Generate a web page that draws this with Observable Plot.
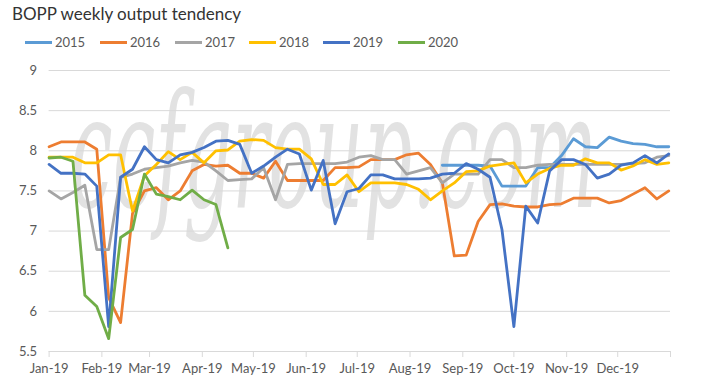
<!DOCTYPE html>
<html>
<head>
<meta charset="utf-8">
<script src="https://cdn.jsdelivr.net/npm/d3@7"></script>
<script src="https://cdn.jsdelivr.net/npm/@observablehq/plot@0.6"></script>
<style>
  html, body { margin: 0; padding: 0; background: #fff; }
  #wrap { position: relative; width: 713px; height: 385px; overflow: hidden; font-family: Lato, "Open Sans", sans-serif; }
  #title { position: absolute; left: 12px; top: 3px; font-size: 17px; color: #333; white-space: nowrap; }
  #legend { position: absolute; left: 0; top: 33px; height: 20px; width: 713px; }
  .item { position: absolute; top: 0; display: flex; align-items: center; height: 18px; font-size: 13px; color: #595959; }
  .sw { width: 27px; height: 3px; margin-right: 3px; }
  #chart { position: absolute; left: 0; top: 55px; }
</style>
</head>
<body>
<div id="wrap">
  <div id="title">BOPP weekly output tendency</div>
  <div id="legend"></div>
  <div id="chart"></div>
</div>
<script>
const weeks = ["2019-01-01","2019-01-08","2019-01-15","2019-01-22","2019-01-29",
  "2019-02-05","2019-02-12","2019-02-19","2019-02-26",
  "2019-03-05","2019-03-12","2019-03-19","2019-03-26",
  "2019-04-02","2019-04-09","2019-04-16","2019-04-23","2019-04-30",
  "2019-05-07","2019-05-14","2019-05-21","2019-05-28",
  "2019-06-04","2019-06-11","2019-06-18","2019-06-25",
  "2019-07-02","2019-07-09","2019-07-16","2019-07-23","2019-07-30",
  "2019-08-06","2019-08-13","2019-08-20","2019-08-27",
  "2019-09-03","2019-09-10","2019-09-17","2019-09-24",
  "2019-10-01","2019-10-08","2019-10-15","2019-10-22","2019-10-29",
  "2019-11-05","2019-11-12","2019-11-19","2019-11-26",
  "2019-12-03","2019-12-10","2019-12-17","2019-12-24","2019-12-31"];

const seriesNames = ["2015","2016","2017","2018","2019","2020"];
const seriesColors = ["#5B9BD5","#ED7D31","#A5A5A5","#FFC000","#4472C4","#70AD47"];

const s2015 = [null,null,null,null,null,null,null,null,null,null,null,null,null,null,null,null,null,
  null,null,null,null,null,null,null,null,null,null,null,null,null,null,null,null,
  7.82,7.82,7.82,7.82,7.81,7.56,7.56,7.56,7.79,7.79,7.94,8.15,8.05,8.04,8.17,8.12,8.09,8.08,8.05,8.05];
const s2016 = [8.05,8.11,8.11,8.11,8.02,6.17,5.86,7.22,7.50,7.54,7.39,7.50,7.75,7.83,7.81,7.82,7.72,
  7.72,7.66,7.87,7.63,7.63,7.63,7.63,7.79,7.79,7.80,7.89,7.89,7.89,7.95,7.97,7.83,
  7.60,6.69,6.70,7.12,7.33,7.34,7.31,7.30,7.30,7.33,7.34,7.41,7.41,7.41,7.35,7.38,7.46,7.54,7.40,7.50];
const s2017 = [7.50,7.40,7.48,7.57,6.77,6.77,7.67,7.71,7.77,7.79,7.81,7.85,7.88,7.86,7.75,7.63,7.64,
  7.65,7.79,7.39,7.83,7.84,7.84,7.84,7.84,7.86,7.92,7.94,7.89,7.89,7.71,7.75,7.79,
  7.60,7.71,7.71,7.71,7.89,7.89,7.79,7.79,7.82,7.83,7.83,7.83,7.83,7.83,7.83,7.83,7.84,7.85,7.92,7.94];
const s2018 = [7.92,7.92,7.92,7.85,7.85,7.95,7.95,7.25,7.69,7.83,7.99,7.89,7.98,7.85,8.00,8.01,8.12,
  8.14,8.13,8.04,8.02,8.02,7.90,7.58,7.58,7.70,7.49,7.60,7.60,7.60,7.58,7.52,7.39,
  7.50,7.60,7.74,7.75,7.81,7.83,7.85,7.60,7.71,7.78,7.82,7.82,7.90,7.85,7.85,7.76,7.81,7.89,7.83,7.85];
const s2019 = [7.83,7.72,7.72,7.71,7.56,5.81,7.67,7.77,8.05,7.89,7.85,7.95,7.98,8.04,8.12,8.13,8.08,
  7.72,7.81,7.92,8.02,7.96,7.51,7.88,7.09,7.49,7.53,7.70,7.70,7.65,7.65,7.65,7.66,
  7.71,7.72,7.84,7.77,7.67,7.02,5.81,7.31,7.10,7.75,7.89,7.89,7.83,7.66,7.71,7.82,7.85,7.94,7.85,7.96];
const s2020 = [7.91,7.92,7.87,6.20,6.06,5.66,6.92,7.02,7.71,7.46,7.43,7.39,7.51,7.39,7.33,6.79];

const yTicks = [5.5,6,6.5,7,7.5,8,8.5,9];
const yTickLabels = ["5.5","6","6.5","7","7.5","8","8.5","9"];
const monthTicks = ["2019-01-01","2019-02-01","2019-03-01","2019-04-01","2019-05-01","2019-06-01",
  "2019-07-01","2019-08-01","2019-09-01","2019-10-01","2019-11-01","2019-12-01","2020-01-01"];
const monthLabels = ["Jan-19","Feb-19","Mar-19","Apr-19","May-19","Jun-19","Jul-19","Aug-19","Sep-19","Oct-19","Nov-19","Dec-19",""];
const watermarkText = "ccfgroup.com";

const allSeries = [s2015, s2016, s2017, s2018, s2019, s2020];
const rows = [];
allSeries.forEach((vals, si) => {
  vals.forEach((v, i) => {
    rows.push({series: seriesNames[si], date: new Date(weeks[i] + "T00:00:00Z"), value: v});
  });
});

const tickDates = monthTicks.map(d => new Date(d + "T00:00:00Z"));
const labelFor = new Map(tickDates.map((d, i) => [+d, monthLabels[i]]));

const plot = Plot.plot({
  width: 713,
  height: 330,
  marginLeft: 48.6,
  marginRight: 43,
  marginTop: 15,
  marginBottom: 34,
  style: {fontFamily: "Lato, 'Open Sans', sans-serif", fontSize: "13px", color: "#595959", background: "transparent"},
  x: {type: "utc", domain: [tickDates[0], tickDates[tickDates.length - 1]]},
  y: {domain: [5.5, 9]},
  color: {domain: seriesNames, range: seriesColors},
  marks: [
    Plot.gridY(yTicks.slice(1), {stroke: "#d9d9d9", strokeOpacity: 1, strokeWidth: 1}),
    Plot.ruleY([5.5], {stroke: "#d9d9d9", strokeWidth: 1}),
    Plot.axisY(yTicks, {tickSize: 0, tickPadding: 12, tickFormat: d => yTickLabels[yTicks.indexOf(d)], fill: "#595959", fontSize: 13, label: null}),
    Plot.axisX(tickDates, {tickSize: 6, tickPadding: 6, stroke: "#d9d9d9", tickFormat: d => labelFor.get(+d), fill: "#595959", fontSize: 13, label: null}),
    Plot.line(rows, {x: "date", y: "value", z: "series", stroke: "series", strokeWidth: 2.8, strokeLinejoin: "round", strokeLinecap: "round"})
  ]
});

document.getElementById("chart").appendChild(plot);

// faint watermark behind the lines, squeezed horizontally to fit the plot area
const firstG = plot.querySelector("g");
const wm = document.createElementNS("http://www.w3.org/2000/svg", "text");
wm.textContent = watermarkText;
wm.setAttribute("x", "0");
wm.setAttribute("y", "0");
wm.setAttribute("text-anchor", "start");
wm.setAttribute("font-family", "DejaVu Serif");
wm.setAttribute("font-style", "italic");
wm.setAttribute("font-size", "160");
wm.setAttribute("fill", "#e2e2e2");
plot.insertBefore(wm, firstG);
const natural = wm.getComputedTextLength() || 1100;
const sx = 527 / natural;
wm.setAttribute("transform", `translate(70,152) scale(${sx.toFixed(4)},1)`);

// legend
const legend = document.getElementById("legend");
const lefts = [25, 100, 175, 249, 323, 398];
seriesNames.forEach((name, i) => {
  const it = document.createElement("div");
  it.className = "item";
  it.style.left = lefts[i] + "px";
  const sw = document.createElement("div");
  sw.className = "sw";
  sw.style.background = seriesColors[i];
  const tx = document.createElement("span");
  tx.textContent = name;
  it.appendChild(sw);
  it.appendChild(tx);
  legend.appendChild(it);
});
</script>
</body>
</html>
